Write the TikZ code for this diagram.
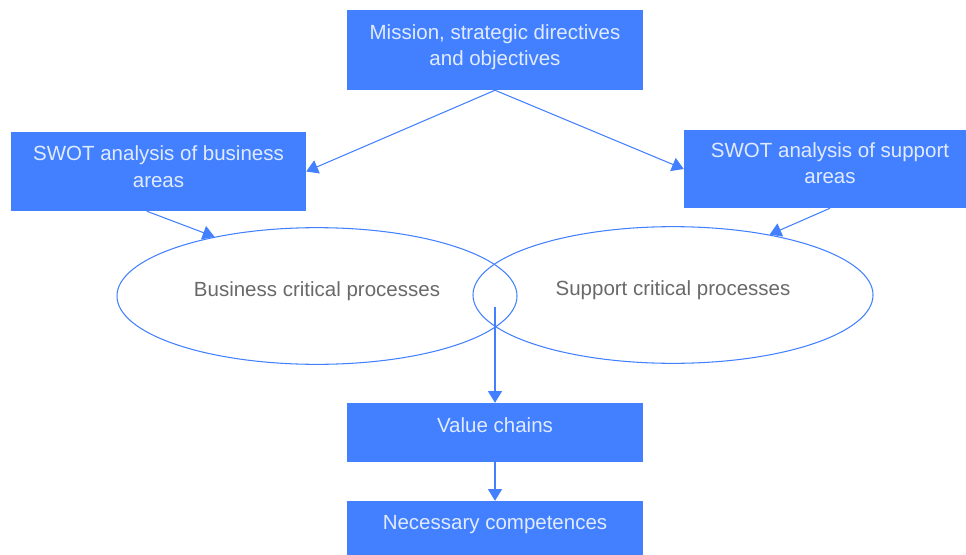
\documentclass[tikz,border=0pt]{standalone}
\usepackage{fontspec}
\setmainfont{Liberation Sans}
\usetikzlibrary{shapes.geometric,arrows.meta}
\definecolor{boxblue}{RGB}{66,128,255}
\definecolor{boxtext}{RGB}{225,235,255}
\definecolor{ovaltext}{RGB}{105,105,105}
\begin{document}
\begin{tikzpicture}[x=0.03cm,y=-0.03cm,
		box/.style={fill=boxblue,text=boxtext,inner sep=0pt,align=center,font=\fontsize{17.5}{22.5}\selectfont},
		oval/.style={ellipse,draw=boxblue,line width=0.9pt,inner sep=0pt,minimum width=12cm,minimum height=4.1cm,text=ovaltext,font=\fontsize{17.5}{22.5}\selectfont},
		link/.style={draw=boxblue,line width=0.9pt,-{Triangle[length=10pt,width=12pt]}}]
				\useasboundingbox (0,0) rectangle (966,555);
				\node[box,minimum width=8.88cm,minimum height=2.4cm,text depth=0.3cm] (M) at (495,50) {Mission, strategic directives\\and objectives};
				\node[box,minimum width=8.85cm,minimum height=2.37cm,text depth=0.3cm] (SB) at (158.5,171.5) {SWOT analysis of business\\areas};
				\node[box,minimum width=8.76cm,minimum height=2.34cm,text depth=0.35cm] (SS) at (830,169) {SWOT analysis of support\\areas};
				\node[oval] (BP) at (317,296) {\raisebox{0.4cm}{Business critical processes}};
				\node[oval] (SP) at (673,295) {\raisebox{0.4cm}{Support critical processes}};
				\node[box,minimum width=8.88cm,minimum height=1.77cm,text depth=0.45cm] (V) at (495,432.5) {Value chains};
				\node[box,minimum width=8.88cm,minimum height=1.77cm,text depth=0.5cm] (N) at (495,530.5) {Necessary competences};
				\coordinate (X) at (495,307);
				\draw[link] (M.south) -- (SB.east);
				\draw[link] (M.south) -- (SS.west);
				\draw[link] ([xshift=-0.35cm]SB.south) -- (BP.150);
				\draw[link] (SS.south) -- (SP.32);
				\draw[link] (X) -- (V.north);
				\draw[link] (V.south) -- (N.north);
\end{tikzpicture}
\end{document}
